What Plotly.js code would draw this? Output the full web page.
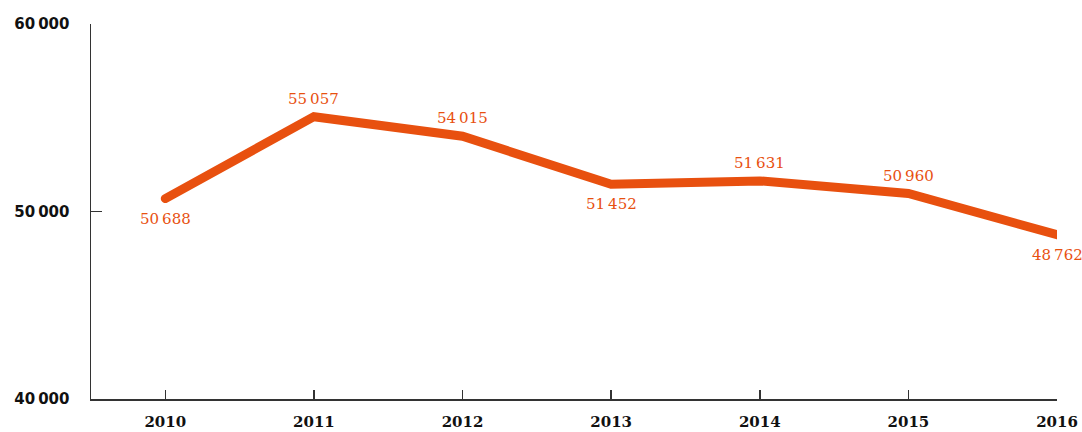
<!DOCTYPE html>
<html><head><meta charset="utf-8">
<script src="https://cdn.plot.ly/plotly-3.0.1.min.js"></script>
<style>html,body{margin:0;padding:0;background:#fff}#chart{width:1082px;height:432px}
.js-line{stroke-linecap:round}</style>
</head><body><div id="chart"></div>
<script>
const years = [2010, 2011, 2012, 2013, 2014, 2015, 2016];
const values = [50688, 55057, 54015, 51452, 51631, 50960, 48762];
const labelText = ["50\u2009688", "55\u2009057", "54\u2009015", "51\u2009452", "51\u2009631", "50\u2009960", "48\u2009762"];
const labelBelow = [true, false, false, true, false, false, true];
const yTicks = [40000, 50000, 60000];
const yTickText = ["40\u2009000", "50\u2009000", "60\u2009000"];

const orange = '#E8500F';
const trace = {x: years, y: values, mode: 'lines', type: 'scatter',
  line: {color: orange, width: 9}, hoverinfo: 'skip'};

const annotations = years.map((yr, i) => ({
  x: yr, y: values[i], text: labelText[i], showarrow: false,
  yshift: labelBelow[i] ? -20 : 18,
  font: {family: 'DejaVu Serif', size: 15, color: orange}
}));

const layout = {
  width: 1082, height: 432,
  margin: {l: 91, r: 25, t: 24, b: 33},
  paper_bgcolor: '#fff', plot_bgcolor: '#fff',
  showlegend: false,
  xaxis: {range: [2009.5, 2016], tickvals: years, ticktext: years.map(String),
    showgrid: false, zeroline: false, showline: true, linecolor: '#333', linewidth: 1.5,
    ticks: 'inside', ticklen: 9, tickcolor: '#333', tickwidth: 1.5,
    ticklabelstandoff: 8,
    tickfont: {family: 'DejaVu Serif', size: 15, color: '#111', weight: 'bold'}},
  yaxis: {range: [40000, 60000], tickvals: yTicks, ticktext: yTickText,
    showgrid: false, zeroline: false, showline: true, linecolor: '#333', linewidth: 1.5,
    ticks: 'inside', ticklen: 11, tickcolor: '#333', tickwidth: 1.5,
    ticklabelstandoff: 17,
    tickfont: {family: 'DejaVu Sans', size: 15, color: '#111', weight: 'bold'}},
  annotations: annotations
};
Plotly.newPlot('chart', [trace], layout, {displayModeBar: false, staticPlot: true});
</script></body></html>
